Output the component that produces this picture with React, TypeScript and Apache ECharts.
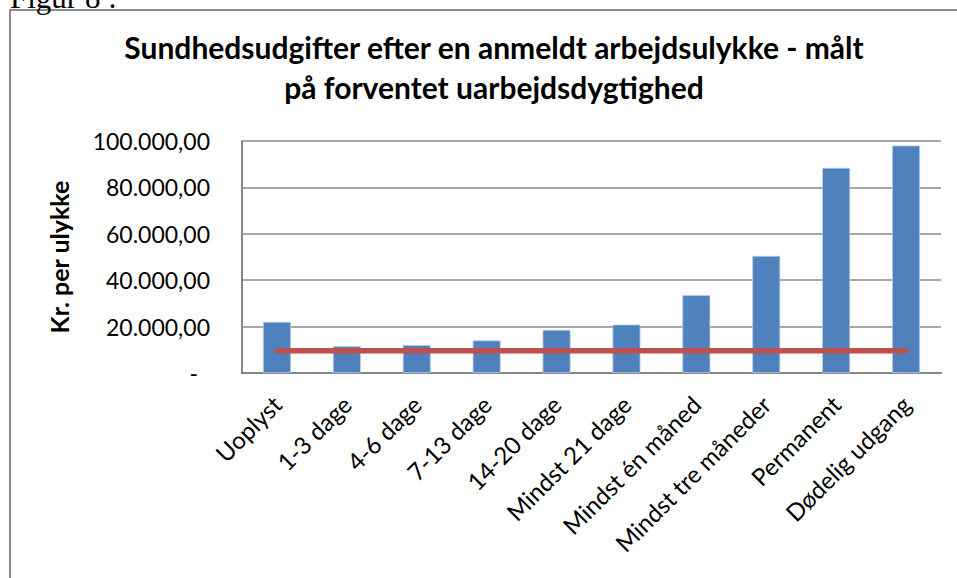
import React, { useEffect, useRef } from "react";
import * as echarts from "echarts";

const categories = [
  "Uoplyst",
  "1-3 dage",
  "4-6 dage",
  "7-13 dage",
  "14-20 dage",
  "Mindst 21 dage",
  "Mindst én måned",
  "Mindst tre måneder",
  "Permanent",
  "Dødelig udgang",
];
const costPerAccident = [22050, 11600, 12050, 14050, 18600, 20900, 33550, 50500, 88450, 98050];
const referenceLevel = [9600, 9600, 9600, 9600, 9600, 9600, 9600, 9600, 9600, 9600];
const yMin = 0;
const yMax = 100000;
const yInterval = 20000;

const titleText = "Sundhedsudgifter efter en anmeldt arbejdsulykke - målt\npå forventet uarbejdsdygtighed";
const yAxisName = "Kr. per ulykke";
const figureCaption = "Figur 8 :";

function formatKr(v: number): string {
  if (v === 0) return "{z|-}";
  const s = Math.round(v)
    .toString()
    .replace(/\B(?=(\d{3})+(?!\d))/g, ".");
  return s + ",00";
}

export default function App() {
  const ref = useRef<HTMLDivElement>(null);
  useEffect(() => {
    if (!ref.current) return;
    const chart = echarts.init(ref.current, null, { renderer: "svg" });
    const font = "Lato, 'Open Sans', sans-serif";
    chart.setOption({
      animation: false,
      backgroundColor: "#ffffff",
      textStyle: { fontFamily: font },
      title: {
        text: titleText,
        left: 489,
        top: 22,
        textAlign: "center",
        textStyle: {
          fontFamily: font,
          fontSize: 30,
          fontWeight: "bold",
          color: "#000000",
          lineHeight: 40,
        },
      },
      graphic: [
        {
          type: "rect",
          shape: { x: 10, y: 10, width: 1000, height: 1000 },
          style: { fill: "none", stroke: "#8c8c8c", lineWidth: 2 },
          silent: true,
        },
        {
          type: "text",
          x: 10,
          y: 13,
          style: {
            text: figureCaption,
            font: "31px 'Liberation Serif', 'Times New Roman', serif",
            fill: "#000000",
            verticalAlign: "bottom",
          },
          silent: true,
        },
      ],
      grid: { left: 242, right: 16, top: 141, bottom: 205, containLabel: false },
      xAxis: {
        type: "category",
        data: categories,
        axisLine: { show: true, lineStyle: { color: "#868686", width: 2 } },
        axisTick: { show: false },
        axisLabel: {
          rotate: 45,
          interval: 0,
          margin: 27,
          fontFamily: font,
          fontSize: 24,
          color: "#000000",
        },
      },
      yAxis: {
        type: "value",
        min: yMin,
        max: yMax,
        interval: yInterval,
        name: yAxisName,
        nameLocation: "middle",
        nameGap: 171,
        nameTextStyle: { fontFamily: font, fontSize: 25, fontWeight: "bold", color: "#000000" },
        axisLine: { show: true, lineStyle: { color: "#868686", width: 2 } },
        axisTick: { show: false },
        splitLine: { show: true, lineStyle: { color: "#8a8a8a", width: 1.5 } },
        axisLabel: {
          margin: 32,
          fontFamily: font,
          fontSize: 23,
          color: "#000000",
          formatter: formatKr,
          rich: { z: { fontFamily: font, fontSize: 23, color: "#000000", padding: [0, 12, 0, 0] } },
        },
      },
      series: [
        {
          type: "bar",
          data: costPerAccident,
          barWidth: 28,
          itemStyle: { color: "#4f81bd", borderColor: "#b9cde5", borderWidth: 0.8 },
        },
        {
          type: "line",
          data: referenceLevel,
          symbol: "none",
          lineStyle: { color: "#c0504d", width: 5.5, cap: "round" },
          z: 3,
        },
      ],
    });
    return () => chart.dispose();
  }, []);
  return (
    <div
      ref={ref}
      style={{ position: "fixed", left: 0, top: 0, width: 957, height: 578 }}
    />
  );
}
